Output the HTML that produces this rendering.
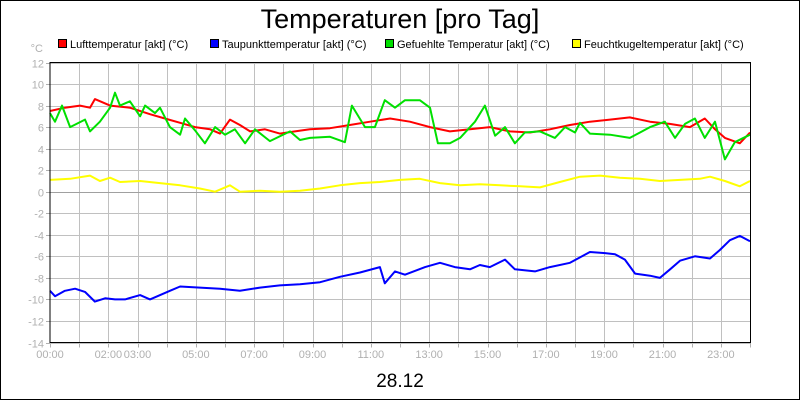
<!DOCTYPE html>
<html><head><meta charset="utf-8"><style>
html,body{margin:0;padding:0;background:#fff}
svg{display:block;font-family:"Liberation Sans",sans-serif}
</style></head><body>
<svg id="chart" width="800" height="400" viewBox="0 0 800 400" xmlns="http://www.w3.org/2000/svg">
<rect x="0.5" y="0.5" width="799" height="399" fill="#fff" stroke="#000"/>
<text x="400" y="28" text-anchor="middle" font-size="27">Temperaturen [pro Tag]</text>
<g id="legend" font-size="11"></g>
<text x="43" y="52" text-anchor="end" font-size="11" fill="#b0b0b0">°C</text>
<g id="grid"></g>
<g id="series"></g>
<rect x="50" y="62.5" width="700.5" height="280" fill="none" stroke="#000"/>
<text x="400" y="387" text-anchor="middle" font-size="19">28.12</text>
</svg>
<script>
const yTicks=[12,10,8,6,4,2,0,-2,-4,-6,-8,-10,-12,-14];
const xTickLabels=["00:00","02:00","03:00","05:00","07:00","09:00","11:00","13:00","15:00","17:00","19:00","21:00","23:00"];
const xTickHours=[0,2,3,5,7,9,11,13,15,17,19,21,23];
const seriesNames=["Lufttemperatur [akt] (°C)","Taupunkttemperatur [akt] (°C)","Gefuehlte Temperatur [akt] (°C)","Feuchtkugeltemperatur [akt] (°C)"];
const redT=[0,0.51,1.03,1.37,1.54,2.06,2.74,3.43,3.94,4.46,4.97,5.49,5.83,6.17,6.51,6.86,7.37,7.88,8.4,8.91,9.6,10.28,10.97,11.66,12.34,13.03,13.71,14.4,15.08,15.77,16.46,17.14,17.83,18.51,19.2,19.88,20.57,21.25,21.94,22.45,22.8,23.14,23.65,24];
const redV=[7.5,7.8,8.0,7.8,8.6,8.0,7.8,7.2,6.8,6.4,6.0,5.8,5.4,6.7,6.2,5.6,5.8,5.4,5.6,5.8,5.9,6.2,6.5,6.8,6.5,6.0,5.6,5.8,6.0,5.6,5.5,5.8,6.2,6.5,6.7,6.9,6.5,6.3,6.0,6.8,5.8,5.0,4.5,5.5];
const blueT=[0,0.17,0.51,0.86,1.2,1.54,1.89,2.23,2.57,3.09,3.43,4.11,4.46,5.14,5.83,6.51,7.2,7.88,8.57,9.26,9.94,10.63,11.31,11.48,11.83,12.17,12.86,13.37,13.88,14.4,14.74,15.08,15.6,15.94,16.63,17.14,17.83,18.51,19.03,19.37,19.71,20.06,20.57,20.91,21.26,21.6,22.11,22.63,22.97,23.31,23.65,24];
const blueV=[-9.2,-9.7,-9.2,-9.0,-9.3,-10.2,-9.9,-10.0,-10.0,-9.6,-10.0,-9.2,-8.8,-8.9,-9.0,-9.2,-8.9,-8.7,-8.6,-8.4,-7.9,-7.5,-7.0,-8.5,-7.4,-7.7,-7.0,-6.6,-7.0,-7.2,-6.8,-7.0,-6.3,-7.2,-7.4,-7.0,-6.6,-5.6,-5.7,-5.8,-6.3,-7.6,-7.8,-8.0,-7.2,-6.4,-6.0,-6.2,-5.4,-4.5,-4.1,-4.6];
const greenT=[0,0.17,0.41,0.69,1.2,1.37,1.71,2.06,2.23,2.4,2.74,3.09,3.26,3.6,3.77,4.11,4.46,4.63,4.97,5.31,5.66,6.0,6.34,6.69,7.03,7.54,8.23,8.57,8.91,9.6,10.11,10.35,10.8,11.14,11.48,11.83,12.17,12.68,13.03,13.3,13.71,14.06,14.57,14.91,15.26,15.6,15.94,16.28,16.8,17.31,17.66,18.0,18.17,18.51,19.2,19.88,20.23,20.57,21.08,21.43,21.77,22.11,22.45,22.8,23.14,23.48,24];
const greenV=[7.3,6.5,8.0,6.0,6.7,5.6,6.5,7.8,9.2,8.0,8.4,7.0,8.0,7.3,7.8,6.0,5.3,6.8,5.7,4.5,6.0,5.3,5.8,4.5,5.8,4.7,5.6,4.8,5.0,5.1,4.6,8.0,6.0,6.0,8.5,7.8,8.5,8.5,7.8,4.5,4.5,5.0,6.5,8.0,5.2,6.0,4.5,5.5,5.6,5.0,6.0,5.5,6.4,5.4,5.3,5.0,5.5,6.0,6.5,5.0,6.3,6.8,5.0,6.5,3.0,4.6,5.3];
const yellowT=[0,0.69,1.37,1.71,2.06,2.4,3.09,3.77,4.46,5.14,5.66,6.17,6.51,7.2,7.88,8.57,9.26,9.94,10.63,11.31,12.0,12.68,13.37,14.06,14.74,15.43,16.11,16.8,17.48,18.17,18.86,19.54,20.23,20.91,21.6,22.28,22.63,23.14,23.65,24];
const yellowV=[1.1,1.2,1.5,1.0,1.3,0.9,1.0,0.8,0.6,0.3,0.0,0.6,0.0,0.1,0.0,0.1,0.3,0.6,0.8,0.9,1.1,1.2,0.8,0.6,0.7,0.6,0.5,0.4,0.9,1.4,1.5,1.3,1.2,1.0,1.1,1.2,1.4,1.0,0.5,1.0];

const NS="http://www.w3.org/2000/svg";
const X0=50,X1=750,Y0=62.5,Y1=342.5;
function xs(h){return X0+(X1-X0)*h/24;}
function ys(v){return Y1-(v+14)/26*(Y1-Y0);}
function mk(tag,attrs,parent){const e=document.createElementNS(NS,tag);for(const k in attrs)e.setAttribute(k,attrs[k]);parent.appendChild(e);return e;}
const grid=document.getElementById('grid');
for(let h=1;h<24;h++){
  const l=mk('line',{x1:Math.round(xs(h))+0.5,x2:Math.round(xs(h))+0.5,y1:Y0,y2:Y1,stroke:'#c0c0c0'},grid);
  
  
}
for(let h=0;h<=24;h++){
  const t=mk('line',{x1:Math.round(xs(h))+0.5,x2:Math.round(xs(h))+0.5,y1:Y1,y2:Y1+5,stroke:'#b0b0b0'},grid);
  
  
}
yTicks.forEach(v=>{
  const y=Math.round(ys(v))+0.5;
  const l=mk('line',{x1:X0,x2:X1,y1:y,y2:y,stroke:v===0?'#a0a0a0':'#c0c0c0'},grid);
  
  
  const tk=mk('line',{x1:X0-4,x2:X0,y1:y,y2:y,stroke:'#b0b0b0'},grid);
  
  
  const t=mk('text',{x:44,y:y+4,'text-anchor':'end','font-size':11,fill:'#b0b0b0'},grid);
  t.textContent=v;
  
  
});
xTickLabels.forEach((s,i)=>{
  const t=mk('text',{x:xs(xTickHours[i]),y:358,'text-anchor':'middle','font-size':11,fill:'#b0b0b0'},grid);
  t.textContent=s;
  
  
});
const ser=document.getElementById('series');
function line(T,V,color,name){
  const p=mk('polyline',{points:T.map((t,i)=>xs(t).toFixed(1)+','+ys(V[i]).toFixed(1)).join(' '),fill:'none',stroke:color,'stroke-width':2,'stroke-linejoin':'round'},ser);
  
  
}
line(yellowT,yellowV,'#ffff00','wet-bulb-line');
line(blueT,blueV,'#0000ff','dew-point-line');
line(redT,redV,'#ff0000','air-temp-line');
line(greenT,greenV,'#00e000','feels-like-line');
const leg=document.getElementById('legend');
const legColors=['#ff0000','#0000ff','#00e000','#ffff00'];
const legX=[58,210,385,572];
seriesNames.forEach((n,i)=>{
  const g=mk('g',{},leg);
  
  
  mk('rect',{x:legX[i]+0.5,y:39.5,width:8,height:8,fill:legColors[i],stroke:'#000'},g);
  const t=mk('text',{x:legX[i]+12,y:48},g);
  t.textContent=n;
});
</script>
</body></html>
